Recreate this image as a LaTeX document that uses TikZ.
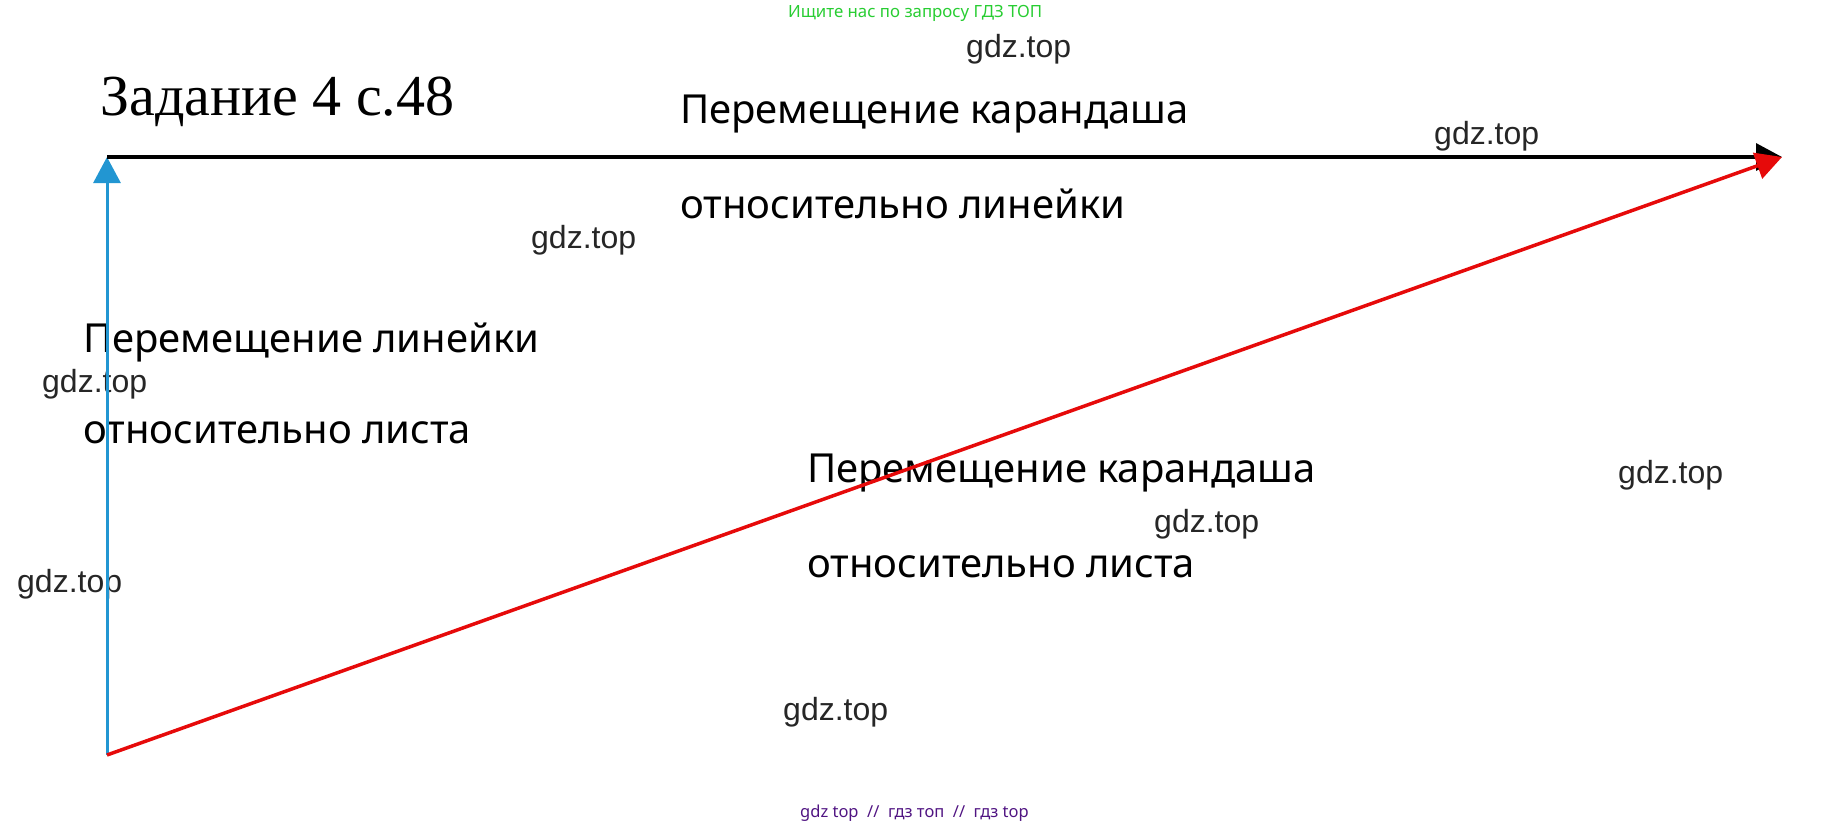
\documentclass[tikz,border=0pt]{standalone}
\usepackage{fontspec}
\setmainfont{Noto Sans}
\newfontfamily\titlefont{Liberation Serif}
\newfontfamily\wmfont{Liberation Sans}
\usetikzlibrary{arrows.meta}

\definecolor{ruler}{RGB}{34,150,210}
\definecolor{pencil}{RGB}{230,10,10}
\definecolor{adgreen}{RGB}{40,205,50}
\definecolor{adpurple}{RGB}{80,20,130}

\begin{document}
\begin{tikzpicture}
  [x=1pt,y=1pt,
   lbl/.style={anchor=base west,inner sep=0,font=\fontsize{40}{44}\selectfont},
   wm/.style={anchor=base west,inner sep=0,font=\wmfont\fontsize{32}{36}\selectfont,color=black!85},
   vec/.style={line width=3.5pt,-{Triangle[length=26pt,width=27pt]}}]
  \useasboundingbox (0,0) rectangle (1831,-827);

  \coordinate (o) at (107,-755);
  \coordinate (s) at (107,-157);
  \coordinate (e) at (1782,-157);

  \node[anchor=base west,inner sep=0,font=\titlefont\fontsize{58}{64}\selectfont] (title) at (100,-115) {Задание 4 с.48};

  \node[lbl] (rel1) at (680,-123) {Перемещение карандаша};
  \node[lbl] (rel2) at (680,-218) {относительно линейки};
  \node[lbl] (rul1) at (83,-352) {Перемещение линейки};
  \node[lbl] (rul2) at (83,-443) {относительно листа};
  \node[lbl] (abs1) at (807,-482) {Перемещение карандаша};
  \node[lbl] (abs2) at (807,-577) {относительно листа};

  \foreach \n/\x/\y in {w1/966/57,w2/1434/144,w3/531/248,w4/42/392,
                        w5/17/592,w6/1154/532,w7/1618/483,w8/783/720}
    \node[wm] (\n) at (\x,-\y) {gdz.top};

  \node[anchor=base west,inner sep=0,font=\fontsize{16.8}{19}\selectfont,color=adgreen] (ad1) at (788,-17) {Ищите нас по запросу ГДЗ ТОП};
  \node[anchor=base west,inner sep=0,font=\fontsize{16.5}{19}\selectfont,color=adpurple] (ad2) at (800,-817) {gdz top \ // \ гдз топ \ // \ гдз top};

  \draw[vec,ruler,line width=3pt] (o) -- (s);
  \draw[vec,black] (s) -- (e);
  \draw[vec,pencil] (o) -- (e);

\end{tikzpicture}
\end{document}
